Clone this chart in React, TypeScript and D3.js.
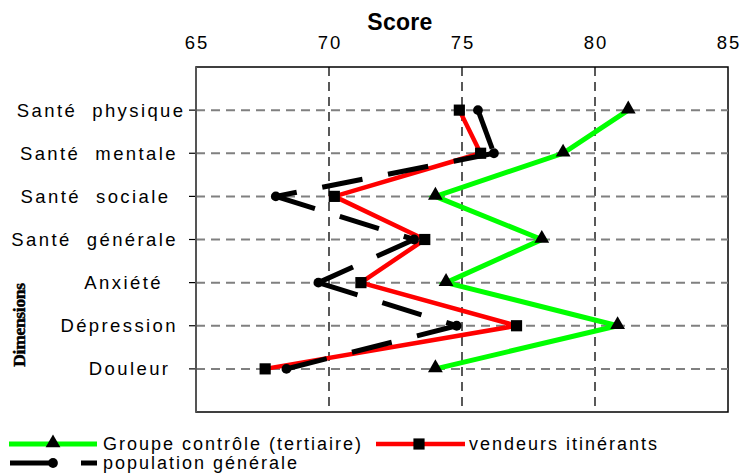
import React from "react";
import * as d3 from "d3";

const categories = [
  "Santé  physique",
  "Santé  mentale ",
  "Santé  sociale  ",
  "Santé  générale ",
  "Anxiété   ",
  "Dépression ",
  "Douleur  ",
];
const xTicks = [65, 70, 75, 80, 85];
const controle = [81.25, 78.8, 74.0, 78.0, 74.4, 80.85, 74.0];
const vendeurs = [74.9, 75.7, 70.2, 73.6, 71.2, 77.05, 67.6];
const population = [75.6, 76.2, 68.0, 73.2, 69.6, 74.8, 68.4];

const legendRow1 = ["Groupe contrôle (tertiaire)", "vendeurs itinérants"];
const legendRow2 = ["population générale"];

const W = 742;
const H = 474;
const M = { left: 196, right: 728, top: 67, bottom: 412 };
const SANS = "'Liberation Sans', Arial, sans-serif";

export default function App() {
  const x = d3.scaleLinear().domain([65, 85]).range([M.left, M.right]);
  const y = d3
    .scalePoint<string>()
    .domain(categories)
    .range([M.top, M.bottom])
    .padding(1);

  const pts = (vals: number[]) =>
    vals.map((v, i) => [x(v), y(categories[i]) as number] as [number, number]);
  const line = d3.line<[number, number]>();

  const gPts = pts(controle);
  const rPts = pts(vendeurs);
  const bPts = pts(population);

  const tri = d3.symbol().type(d3.symbolTriangle).size(95)();
  const sq = d3.symbol().type(d3.symbolSquare).size(125)();
  const circ = d3.symbol().type(d3.symbolCircle).size(75)();

  const segs = bPts.slice(1).map((p, i) => [bPts[i], p] as [number, number][]);

  return (
    <svg
      width={W}
      height={H}
      style={{ position: "absolute", left: 0, top: 0, background: "#fff" }}
    >
      {/* plot border */}
      <rect
        x={M.left}
        y={M.top}
        width={M.right - M.left}
        height={M.bottom - M.top}
        fill="none"
        stroke="#000"
        strokeWidth={1.5}
      />
      {/* vertical grid */}
      {xTicks.slice(1, -1).map((t) => (
        <line
          key={"v" + t}
          x1={x(t)}
          x2={x(t)}
          y1={M.top}
          y2={M.bottom}
          stroke="#000"
          strokeWidth={1.3}
          strokeDasharray="9,6"
        />
      ))}
      {/* horizontal grid */}
      {categories.map((c) => (
        <g key={"h" + c}>
          <line
            x1={M.left}
            x2={M.right}
            y1={y(c)}
            y2={y(c)}
            stroke="#808080"
            strokeWidth={2}
            strokeDasharray="9,6"
          />
          <line
            x1={M.left - 7}
            x2={M.left}
            y1={y(c)}
            y2={y(c)}
            stroke="#000"
            strokeWidth={1.2}
          />
        </g>
      ))}
      {/* left axis */}
      <line
        x1={M.left}
        x2={M.left}
        y1={M.top}
        y2={M.bottom}
        stroke="#555"
        strokeWidth={2}
      />
      {/* x tick labels */}
      {xTicks.map((t) => (
        <text
          key={"t" + t}
          x={x(t) + 1}
          y={49}
          textAnchor="middle"
          fontFamily={SANS}
          fontSize={18.5}
          letterSpacing={2}
        >
          {t}
        </text>
      ))}
      <text
        x={400}
        y={30}
        textAnchor="middle"
        fontFamily={SANS}
        fontWeight="bold"
        fontSize={23}
        letterSpacing={0.3}
      >
        Score
      </text>
      {/* category labels */}
      {categories.map((c) => (
        <text
          key={"c" + c}
          x={185.5}
          y={(y(c) as number) + 6.5}
          textAnchor="end"
          fontFamily={SANS}
          fontSize={18.5}
          letterSpacing={2.4}
          style={{ whiteSpace: "pre" }}
        >
          {c}
        </text>
      ))}
      <text
        transform="translate(25,325) rotate(-90)"
        textAnchor="middle"
        fontFamily="'Liberation Serif', 'Times New Roman', serif"
        fontWeight="bold"
        fontSize={17.5}
        letterSpacing={-0.3}
        stroke="#000"
        strokeWidth={0.5}
      >
        Dimensions
      </text>

      {/* series lines */}
      <path d={line(gPts) || ""} fill="none" stroke="#00ff00" strokeWidth={5} strokeLinejoin="miter" />
      <path d={line(rPts) || ""} fill="none" stroke="#ff0000" strokeWidth={4.5} strokeLinejoin="miter" />
      {segs.map((s, i) => (
        <path
          key={"b" + i}
          d={line(s) || ""}
          fill="none"
          stroke="#000"
          strokeWidth={5}
          strokeDasharray="41,26"
        />
      ))}

      {/* markers */}
      {gPts.map((p, i) => (
        <path key={"gm" + i} d={tri || ""} transform={`translate(${p[0]},${p[1] - 1})`} fill="#000" />
      ))}
      {bPts.map((p, i) => (
        <path key={"bm" + i} d={circ || ""} transform={`translate(${p[0]},${p[1]})`} fill="#000" />
      ))}
      {rPts.map((p, i) => (
        <path key={"rm" + i} d={sq || ""} transform={`translate(${p[0]},${p[1]})`} fill="#000" />
      ))}

      {/* legend */}
      <g fontFamily={SANS} fontSize={18} letterSpacing={2}>
        <line x1={9} x2={97} y1={444} y2={444} stroke="#00ff00" strokeWidth={5} />
        <path d={tri || ""} transform="translate(53,443)" fill="#000" />
        <text x={103} y={450}>{legendRow1[0]}</text>
        <line x1={376} x2={465} y1={444} y2={444} stroke="#ff0000" strokeWidth={4.5} />
        <path d={sq || ""} transform="translate(419,444)" fill="#000" />
        <text x={469} y={450}>{legendRow1[1]}</text>
        <line x1={10} x2={97} y1={463} y2={463} stroke="#000" strokeWidth={5} strokeDasharray="41,30" />
        <path d={circ || ""} transform="translate(53,463)" fill="#000" />
        <text x={103} y={469}>{legendRow2[0]}</text>
      </g>
    </svg>
  );
}
